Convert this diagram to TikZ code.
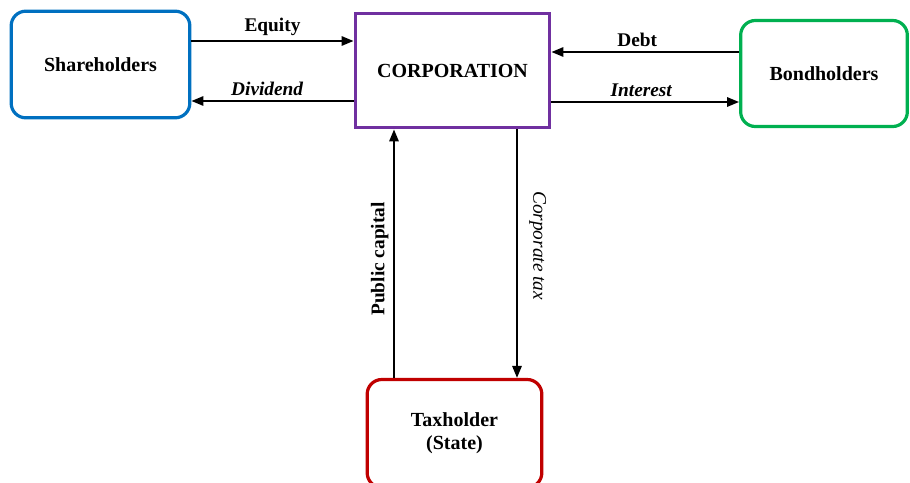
\documentclass[tikz,border=0pt]{standalone}
\usepackage{fontspec}
\setmainfont{Liberation Serif}
\usetikzlibrary{arrows.meta}
\definecolor{shblue}{RGB}{0,112,192}
\definecolor{corppurple}{RGB}{112,48,160}
\definecolor{bondgreen}{RGB}{0,176,80}
\definecolor{taxred}{RGB}{192,0,0}
\tikzset{
  party/.style={draw, line width=2.4pt, rounded corners=11pt, align=center,
    font=\fontsize{15}{17.5}\selectfont\bfseries},
  flow/.style={->, line width=1.5pt},
  lbl/.style={font=\fontsize{14.5}{16}\selectfont\bfseries}
}

\begin{document}
\begin{tikzpicture}[x=0.75pt, y=-0.75pt, >={Triangle[length=9pt,width=7pt]}]
  \useasboundingbox (0,0) rectangle (910,482);
  % Boxes
  \node[party, shblue, text=black, minimum width=134pt, minimum height=80pt] (share) at (100.5,64.5) {Shareholders};
  \node[party, corppurple, text=black, rounded corners=0pt, minimum width=146pt, minimum height=86pt] (corp) at (452.5,70.5) {CORPORATION};
  \node[party, bondgreen, text=black, minimum width=125pt, minimum height=79.5pt] (bond) at (824,73.5) {Bondholders};
  \node[party, taxred, text=black, minimum width=131pt, minimum height=81pt] (tax) at (454.5,433.5) {Taxholder\\(State)};
  % Flows with shareholders
  \draw[flow] (share.east |- 0,41) -- (corp.west |- 0,41) node[lbl, midway, above]{Equity};
  \draw[flow] (corp.west |- 0,101) -- (share.east |- 0,101) node[lbl, midway, above, xshift=-4pt]{\itshape Dividend};
  % Flows with bondholders
  \draw[flow] (bond.west |- 0,52) -- (corp.east |- 0,52) node[lbl, midway, above, xshift=-6pt]{Debt};
  \draw[flow] (corp.east |- 0,102) -- (bond.west |- 0,102) node[lbl, midway, above, xshift=-3pt]{\itshape Interest};
  % Flows with the state
  \draw[flow] (tax.north -| 394,0) -- (corp.south -| 394,0) node[lbl, midway, above, rotate=90, xshift=-4pt]{Public capital};
  \draw[flow] (corp.south -| 517,0) -- (tax.north -| 517,0) node[lbl, midway, above, rotate=-90, xshift=-6pt, inner sep=8.5pt, font=\fontsize{14.5}{16}\selectfont\itshape]{Corporate tax};
\end{tikzpicture}
\end{document}
